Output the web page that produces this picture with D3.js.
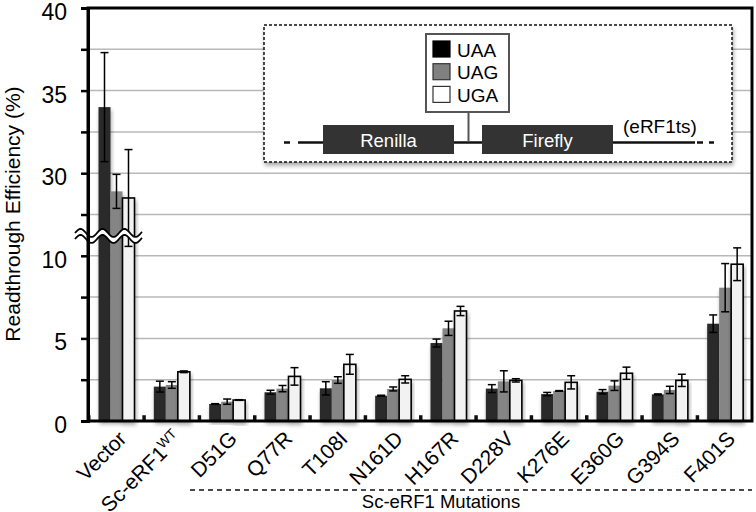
<!DOCTYPE html>
<html>
<head>
<meta charset="utf-8">
<script src="https://cdn.jsdelivr.net/npm/d3@7/dist/d3.min.js"></script>
<style>
  body { margin: 0; background: #fff; }
  text { font-family: "Liberation Sans", Arial, sans-serif; }
</style>
</head>
<body>
<div id="chart"></div>
<script>
var width = 756, height = 512;
var plot = { left: 88, right: 752, top: 8, bottom: 421 };

// data
var categories = ["Vector", "Sc-eRF1", "D51G", "Q77R", "T108I", "N161D", "H167R", "D228V", "K276E", "E360G", "G394S", "F401S"];
var uaa    = [34.0, 2.08, 1.03, 1.74, 1.98, 1.53, 4.72, 1.96, 1.63, 1.77, 1.61, 5.89];
var uaaErr = [3.3, 0.33, 0.02, 0.12, 0.40, 0.03, 0.24, 0.24, 0.10, 0.13, 0.03, 0.53];
var uag    = [28.9, 2.18, 1.17, 1.96, 2.48, 1.94, 5.61, 2.40, 1.82, 2.14, 1.88, 8.07];
var uagErr = [1.03, 0.20, 0.16, 0.19, 0.20, 0.12, 0.43, 0.64, 0.02, 0.29, 0.22, 1.46];
var uga    = [28.5, 2.98, 1.27, 2.70, 3.43, 2.52, 6.66, 2.46, 2.34, 2.89, 2.46, 9.49];
var ugaErr = [2.93, 0.05, 0.02, 0.53, 0.60, 0.22, 0.28, 0.10, 0.40, 0.37, 0.37, 0.99];
var control = [0.35, 0.35, 0.35, 0.35, 0.35, 0.35, 0.35, 0.35, 0.35, 0.35, 0.35, 0.35];

var seriesNames = ["UAA", "UAG", "UGA"];
var seriesColors = ["#2b2b2b", "#858585", "#f2f2f2"];
var legendColors = ["#000", "#808080", "#fff"];
var tickLabelsLow = [0, 5, 10];
var tickLabelsHigh = [30, 35, 40];
var breakLow = 10, breakHigh = 25;   // axis jumps from 10 straight to 25

function eff(v) { return v > breakHigh ? v - (breakHigh - breakLow) : v; }

var y = d3.scaleLinear().domain([0, eff(40)]).range([plot.bottom, plot.top]);
var x0 = d3.scaleBand().domain(categories).range([plot.left, plot.right]);
var x1 = d3.scaleBand().domain(seriesNames).range([10.5, 46.5]);

var svg = d3.select("#chart").append("svg")
    .attr("width", width).attr("height", height);

var defs = svg.append("defs");
var f = defs.append("filter").attr("id", "shadow")
    .attr("x", "-30%").attr("y", "-10%").attr("width", "160%").attr("height", "130%");
f.append("feGaussianBlur").attr("in", "SourceAlpha").attr("stdDeviation", 2);
f.append("feOffset").attr("dx", 1).attr("dy", 3).attr("result", "b");
f.append("feComponentTransfer").append("feFuncA").attr("type", "linear").attr("slope", 0.35);
var fm = f.append("feMerge");
fm.append("feMergeNode");
fm.append("feMergeNode").attr("in", "SourceGraphic");

// gridlines every 2.5 (effective units)
var gridVals = d3.range(2.5, eff(40), 2.5);
svg.append("g").selectAll("line").data(gridVals).enter().append("line")
    .attr("x1", plot.left).attr("x2", plot.right)
    .attr("y1", function (d) { return y(d); })
    .attr("y2", function (d) { return y(d); })
    .attr("stroke", "#b8b8b8").attr("stroke-width", 1.5);

// inset: reporter construct + legend
var inset = svg.append("g");
inset.append("rect")
    .attr("x", 264).attr("y", 25).attr("width", 468).attr("height", 137)
    .attr("fill", "#fff").attr("stroke", "#111").attr("stroke-width", 1.5)
    .attr("stroke-dasharray", "3,2").attr("filter", "url(#shadow)");

inset.append("line").attr("x1", 298).attr("x2", 695).attr("y1", 142.5).attr("y2", 142.5)
    .attr("stroke", "#111").attr("stroke-width", 2.5);
[[284, 290], [697, 703], [709, 714]].forEach(function (d) {
  inset.append("line").attr("x1", d[0]).attr("x2", d[1]).attr("y1", 142.5).attr("y2", 142.5)
      .attr("stroke", "#111").attr("stroke-width", 2.5);
});
inset.append("line").attr("x1", 468.5).attr("x2", 468.5).attr("y1", 112).attr("y2", 142)
    .attr("stroke", "#555").attr("stroke-width", 2);

var genes = [{ name: "Renilla", x: 323, w: 131 }, { name: "Firefly", x: 482, w: 131 }];
genes.forEach(function (g) {
  inset.append("rect").attr("x", g.x).attr("y", 125).attr("width", g.w).attr("height", 29)
      .attr("fill", "#333");
  inset.append("text").attr("x", g.x + g.w / 2).attr("y", 146.5)
      .attr("text-anchor", "middle").attr("fill", "#fff").attr("font-size", 18.5)
      .text(g.name);
});
inset.append("text").attr("x", 623).attr("y", 133).attr("font-size", 19).text("(eRF1ts)");

inset.append("rect").attr("x", 426).attr("y", 34).attr("width", 83).attr("height", 78)
    .attr("fill", "#fff").attr("stroke", "#555").attr("stroke-width", 2);
seriesNames.forEach(function (s, i) {
  inset.append("rect").attr("x", 433).attr("y", 41 + i * 22.7).attr("width", 17).attr("height", 16)
      .attr("fill", legendColors[i]).attr("stroke", i === 0 ? "#000" : "#333").attr("stroke-width", 1.2);
  inset.append("text").attr("x", 457).attr("y", 56.5 + i * 22.7).attr("font-size", 19).text(s);
});

// bars
var groups = svg.append("g").selectAll("g").data(categories).enter().append("g")
    .attr("transform", function (d) { return "translate(" + x0(d) + ",0)"; });

groups.append("rect")
    .attr("x", -1).attr("width", 3.5)
    .attr("y", function (d, i) { return y(control[i]); })
    .attr("height", function (d, i) { return y(0) - y(control[i]); })
    .attr("fill", "#111");

var seriesVals = [uaa, uag, uga];
var seriesErr = [uaaErr, uagErr, ugaErr];
seriesNames.forEach(function (s, k) {
  groups.append("rect")
      .attr("x", x1(s)).attr("width", x1.bandwidth())
      .attr("y", function (d, i) { return y(eff(seriesVals[k][i])); })
      .attr("height", function (d, i) { return y(0) - y(eff(seriesVals[k][i])); })
      .attr("fill", seriesColors[k])
      .attr("stroke", k === 2 ? "#000" : "none").attr("stroke-width", 1.6)
      .attr("filter", "url(#shadow)");
});

// error bars
seriesNames.forEach(function (s, k) {
  var cx = x1(s) + x1.bandwidth() / 2;
  var eb = groups.append("g").attr("stroke", "#000").attr("stroke-width", 1.5);
  eb.append("line").attr("x1", cx).attr("x2", cx)
      .attr("y1", function (d, i) { return y(eff(seriesVals[k][i] + seriesErr[k][i])); })
      .attr("y2", function (d, i) { return y(eff(seriesVals[k][i] - seriesErr[k][i])); });
  eb.append("line").attr("x1", cx - 4).attr("x2", cx + 4)
      .attr("y1", function (d, i) { return y(eff(seriesVals[k][i] + seriesErr[k][i])); })
      .attr("y2", function (d, i) { return y(eff(seriesVals[k][i] + seriesErr[k][i])); });
  eb.append("line").attr("x1", cx - 4).attr("x2", cx + 4)
      .attr("y1", function (d, i) { return y(eff(seriesVals[k][i] - seriesErr[k][i])); })
      .attr("y2", function (d, i) { return y(eff(seriesVals[k][i] - seriesErr[k][i])); });
});

// axis break squiggle over the Vector bars
var sqY = y(11.2), sqX0 = 75, sqX1 = 142;
function wave(off) {
  return d3.range(sqX0, sqX1 + 0.5, 1).map(function (xx) {
    return [xx, sqY + off + 4 * Math.sin((xx - sqX0) / 22 * 2 * Math.PI + Math.PI)];
  });
}
var waveTop = wave(-3), waveBot = wave(3);
svg.append("path")
    .attr("d", d3.line()(waveTop.concat(waveBot.slice().reverse())) + "Z")
    .attr("fill", "#fff");
svg.append("path").attr("d", d3.line()(waveTop)).attr("fill", "none").attr("stroke", "#000").attr("stroke-width", 1.8);
svg.append("path").attr("d", d3.line()(waveBot)).attr("fill", "none").attr("stroke", "#000").attr("stroke-width", 1.8);

// frame + y axis
svg.append("rect")
    .attr("x", plot.left).attr("y", plot.top)
    .attr("width", plot.right - plot.left).attr("height", plot.bottom - plot.top)
    .attr("fill", "none").attr("stroke", "#000").attr("stroke-width", 3);

var labelMap = {};
tickLabelsLow.forEach(function (v) { labelMap[v] = String(v); });
tickLabelsHigh.forEach(function (v) { labelMap[eff(v)] = String(v); });

var yAxis = d3.axisLeft(y)
    .tickValues(d3.range(0, eff(40) + 0.1, 2.5))
    .tickSize(7).tickPadding(14)
    .tickFormat(function (d) { return labelMap[d] || ""; });
var ya = svg.append("g").attr("transform", "translate(" + plot.left + ",0)").call(yAxis);
ya.select(".domain").attr("stroke-width", 3);
ya.selectAll(".tick line").attr("stroke-width", 2.5);
ya.selectAll(".tick text").attr("font-size", 23).attr("fill", "#000").attr("dy", "0.5em")
    .attr("font-family", "'Liberation Sans', Arial, sans-serif");

svg.append("text")
    .attr("transform", "translate(20," + 214 + ") rotate(-90)")
    .attr("text-anchor", "middle").attr("font-size", 21)
    .text("Readthrough Efficiency  (%)");

// x labels
var xl = svg.append("g").selectAll("text").data(categories).enter().append("text")
    .attr("transform", function (d) {
      return "translate(" + (x0(d) + x0.bandwidth() / 2 + 12) + ",440) rotate(-45)";
    })
    .attr("text-anchor", "end").attr("font-size", 21);
xl.append("tspan").text(function (d) { return d; });
xl.filter(function (d) { return d === "Sc-eRF1"; })
    .append("tspan").attr("font-size", 13.5).attr("dy", -8).text("WT");

svg.append("line").attr("x1", 190).attr("x2", plot.right).attr("y1", 490).attr("y2", 490)
    .attr("stroke", "#111").attr("stroke-width", 1.5).attr("stroke-dasharray", "5,4");
svg.append("text").attr("x", 441).attr("y", 508).attr("text-anchor", "middle")
    .attr("font-size", 18.5).text("Sc-eRF1 Mutations");
</script>
</body>
</html>
